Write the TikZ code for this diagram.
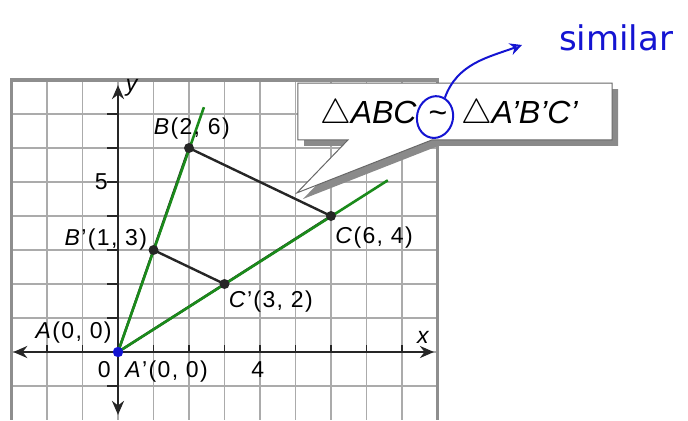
\documentclass[tikz,border=0pt]{standalone}
\usepackage{fontspec}
\setmainfont{Liberation Sans}
\newfontfamily\handfont{DejaVu Sans}
\usepackage{tikz}
\usetikzlibrary{arrows.meta, positioning, shapes.geometric}
\definecolor{GridGray}{HTML}{ABABAB}
\definecolor{FrameGray}{HTML}{8E8E8E}
\definecolor{InkBlack}{HTML}{262626}
\definecolor{RayGreen}{HTML}{1B8A1B}
\definecolor{PenBlue}{HTML}{1414D2}
\definecolor{ShadeGray}{HTML}{8A8A8A}

\begin{document}
\begin{tikzpicture}[x=17.75pt, y=17pt,
    lbl/.style={inner sep=0pt, font=\fontsize{11.5}{12}\selectfont\addfontfeature{LetterSpace=6}},
    eqtext/.style={inner sep=0pt, font=\fontsize{16}{16}\selectfont},
    dot/.style={circle, fill=InkBlack, inner sep=0pt, minimum size=5pt}]
    \useasboundingbox (-3.324,-2.029) rectangle (16.056,10.353);

    % Grid
    \draw[GridGray, line width=0.9pt, step={(1,1)}] (-3,-1.99) grid (9,8);
    \draw[FrameGray, line width=1.8pt] (-3,-1.99) -- (-3,8) -- (9,8) -- (9,-1.99);

    % Axes
    \draw[{Stealth[length=7pt,width=6pt]}-{Stealth[length=7pt,width=6pt]}, line width=1.3pt, InkBlack]
        (-2.95,0) -- (8.9,0);
    \draw[{Stealth[length=7pt,width=6pt]}-{Stealth[length=7pt,width=6pt]}, line width=1.3pt, InkBlack]
        (0,-1.85) -- (0,7.85);
    \foreach \i in {-2,-1,1,2,...,8} \draw[InkBlack, line width=0.9pt] (\i,0) -- (\i,0.22);
    \foreach \j in {-1,1,2,...,7} \draw[InkBlack, line width=0.9pt] (0,\j) -- (-0.3,\j);
    \node[lbl, anchor=east] at (-0.28,5) {5};
    \node[lbl] at (-0.39,-0.53) {0};
    \node[lbl] at (3.94,-0.53) {4};
    \node[lbl] at (0.42,7.78) {\textit{y}};
    \node[lbl] at (8.62,0.42) {\textit{x}};

    % Points
    \coordinate (A) at (0,0);
    \coordinate (B) at (2,6);
    \coordinate (C) at (6,4);
    \coordinate (Bp) at (1,3);
    \coordinate (Cp) at (3,2);
    \coordinate (Bray) at (2.42,7.2);
    \coordinate (Cray) at (7.6,5.05);

    % Triangles
    \draw[InkBlack, line width=1.2pt] (A) -- (B) -- (C) -- cycle;
    \draw[InkBlack, line width=1.2pt] (Bp) -- (Cp);

    % Rays through the image points
    \draw[RayGreen, line width=1.3pt] (A) -- (Bray);
    \draw[RayGreen, line width=1.3pt] (A) -- (Cray);

    \node[dot] at (B) {};
    \node[dot] at (C) {};
    \node[dot] at (Bp) {};
    \node[dot] at (Cp) {};
    \fill[PenBlue] (A) circle (2.6pt);

    % Labels
    \node[lbl, above left=4pt and 3pt of A] (lA) {\textit{A}(0, 0)};
    \node[lbl, below right=4pt and 3.5pt of A] (lAp) {\textit{A}'(0, 0)};
    \node[lbl, above=4pt of B, xshift=1.4pt] (lB) {\textit{B}(2, 6)};
    \node[lbl, left=3pt of Bp, yshift=5pt] (lBp) {\textit{B}'(1, 3)};
    \node[lbl, below right=5pt and 2pt of C] (lC) {\textit{C}(6, 4)};
    \node[lbl, below right=3pt and 2pt of Cp] (lCp) {\textit{C}'(3, 2)};

    % Callout
    \fill[ShadeGray, shift={(0.17,-0.18)}] (5.07,7.91) -- (13.92,7.91) -- (13.92,6.24)
        -- (8.85,6.24) -- (5.04,4.68) -- (6.48,6.24) -- (5.07,6.24) -- cycle;
    \filldraw[fill=white, draw=InkBlack!70, line width=0.5pt] (5.07,7.91) -- (13.92,7.91) -- (13.92,6.24)
        -- (8.85,6.24) -- (5.04,4.68) -- (6.48,6.24) -- (5.07,6.24) -- cycle;
    \node[eqtext] (tl) at (9.01,6.9) {\textasciitilde};
    \node[eqtext, base left=5.5pt of tl] (lhs) {$\triangle$\textit{ABC}};
    \node[eqtext, base right=6.5pt of tl] (rhs) {$\triangle$\textit{A'B'C'}};

    % Handwritten note
    \node[draw=PenBlue, ellipse, line width=1pt, minimum width=18pt, minimum height=21pt,
        inner sep=0pt, rotate=-12] (ring) at (8.93,6.91) {};
    \node[PenBlue, font=\handfont\fontsize{17}{17}\selectfont, anchor=base] (note) at (14.03,8.88) {similar};
    \coordinate (tip) at (11.38,9.03);
    \draw[PenBlue, line width=1pt, -{Stealth[open, length=6pt, width=6pt]}]
        (ring.75) to[out=70, in=200] (tip);
\end{tikzpicture}
\end{document}
